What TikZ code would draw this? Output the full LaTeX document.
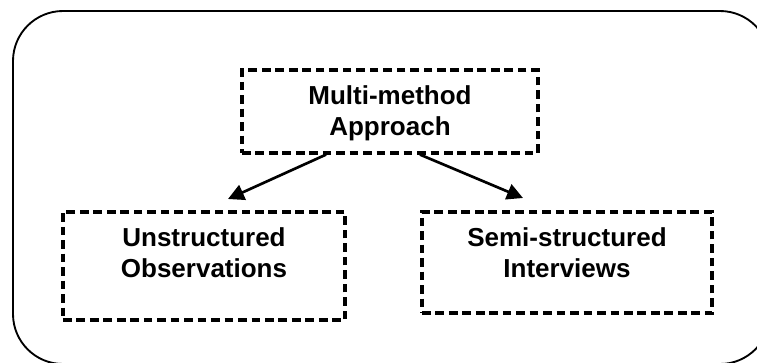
\documentclass[tikz,border=0pt]{standalone}
\usepackage{fontspec}
\setmainfont{Liberation Sans}
\usepackage{tikz}
\usetikzlibrary{arrows.meta}
\usetikzlibrary{calc}

\begin{document}
\begin{tikzpicture}[x=0.75pt,y=-0.75pt,
        dashbox/.style={draw,line width=2.4pt,dash pattern=on 6.5pt off 3.6pt,inner sep=0pt},
        boxtext/.style={anchor=north,inner sep=0pt,align=center,font=\bfseries\fontsize{19.5}{23}\selectfont},
        arr/.style={line width=2pt,-{Triangle[length=12pt,width=12pt]}}]
\useasboundingbox (0,0) rectangle (757,362);
        \draw[line width=1.4pt,rounded corners=37.5pt] (13,11) rectangle (770,364);
\node (approach) at (390,111.5)[dashbox,minimum width=222pt,minimum height=62.25pt]{};
\node (unstr) at (204,266)[dashbox,minimum width=211.5pt,minimum height=81pt]{};
\node (semi) at (567,262.5)[dashbox,minimum width=217.5pt,minimum height=75.75pt]{};
\node (approachtxt) at ([yshift=-13pt]approach.north)[boxtext]{Multi-method\\Approach};
\node (unstrtxt) at ([yshift=-13pt]unstr.north)[boxtext]{Unstructured\\Observations};
\node (semitxt) at ([yshift=-13pt]semi.north)[boxtext]{Semi-structured\\Interviews};
\coordinate (ltip) at (228,199);
\coordinate (rtip) at (523,198);
        \draw[arr] ([xshift=-48pt]approach.south) -- (ltip);
        \draw[arr] ([xshift=22.5pt]approach.south) -- (rtip);
\end{tikzpicture}
\end{document}
